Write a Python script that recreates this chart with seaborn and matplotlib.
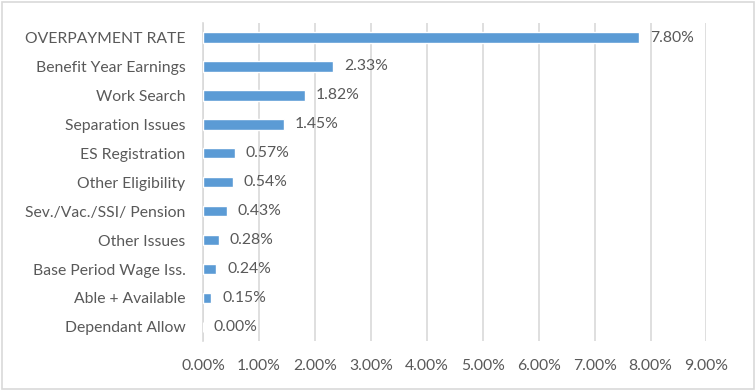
import matplotlib
matplotlib.use("Agg")
import matplotlib.pyplot as plt
import seaborn as sns
import pandas as pd
from matplotlib.patches import Rectangle
from matplotlib.ticker import FuncFormatter

# data
categories = ["OVERPAYMENT RATE", "Benefit Year Earnings", "Work Search",
              "Separation Issues", "ES Registration", "Other Eligibility",
              "Sev./Vac./SSI/ Pension", "Other Issues", "Base Period Wage Iss.",
              "Able + Available", "Dependant Allow"]
rates = [7.80, 2.33, 1.82, 1.45, 0.57, 0.54, 0.43, 0.28, 0.24, 0.15, 0.00]

df = pd.DataFrame({"cause": categories, "rate": rates})

sns.set_style("white")
plt.rcParams["font.family"] = ["Lato", "DejaVu Sans"]

text_col = "#595959"
bar_col = "#5B9BD5"
fsize = 11.3

fig = plt.figure(figsize=(7.56, 3.91), dpi=100)
ax = fig.add_axes([0.2685, 0.127, 0.666, 0.814])

sns.barplot(data=df, x="rate", y="cause", color=bar_col, width=0.36,
            saturation=1, ax=ax, zorder=3)

ax.set_xlim(0, 9)
ax.set_xticks(range(0, 10))
ax.xaxis.set_major_formatter(FuncFormatter(lambda v, p: f"{v:.2f}%"))
ax.grid(axis="x", color="#D9D9D9", linewidth=1.2, zorder=0)
ax.set_axisbelow(True)
for s in ["top", "right", "bottom"]:
    ax.spines[s].set_visible(False)
ax.spines["left"].set_color("#D9D9D9")
ax.spines["left"].set_linewidth(1.2)
ax.tick_params(axis="both", length=0, labelsize=fsize, labelcolor=text_col)
ax.tick_params(axis="x", pad=13)
ax.tick_params(axis="y", pad=12.5)
ax.set_xlabel("")
ax.set_ylabel("")

for i, v in enumerate(rates):
    ax.text(v + 0.19, i, f"{v:.2f}%", va="center", ha="left",
            fontsize=fsize, color=text_col)

fig.patches.append(Rectangle((0.003, 0.005), 0.994, 0.99, transform=fig.transFigure,
                             fill=False, edgecolor="#D9D9D9", linewidth=1.2))

fig.savefig("out.png", dpi=100)
